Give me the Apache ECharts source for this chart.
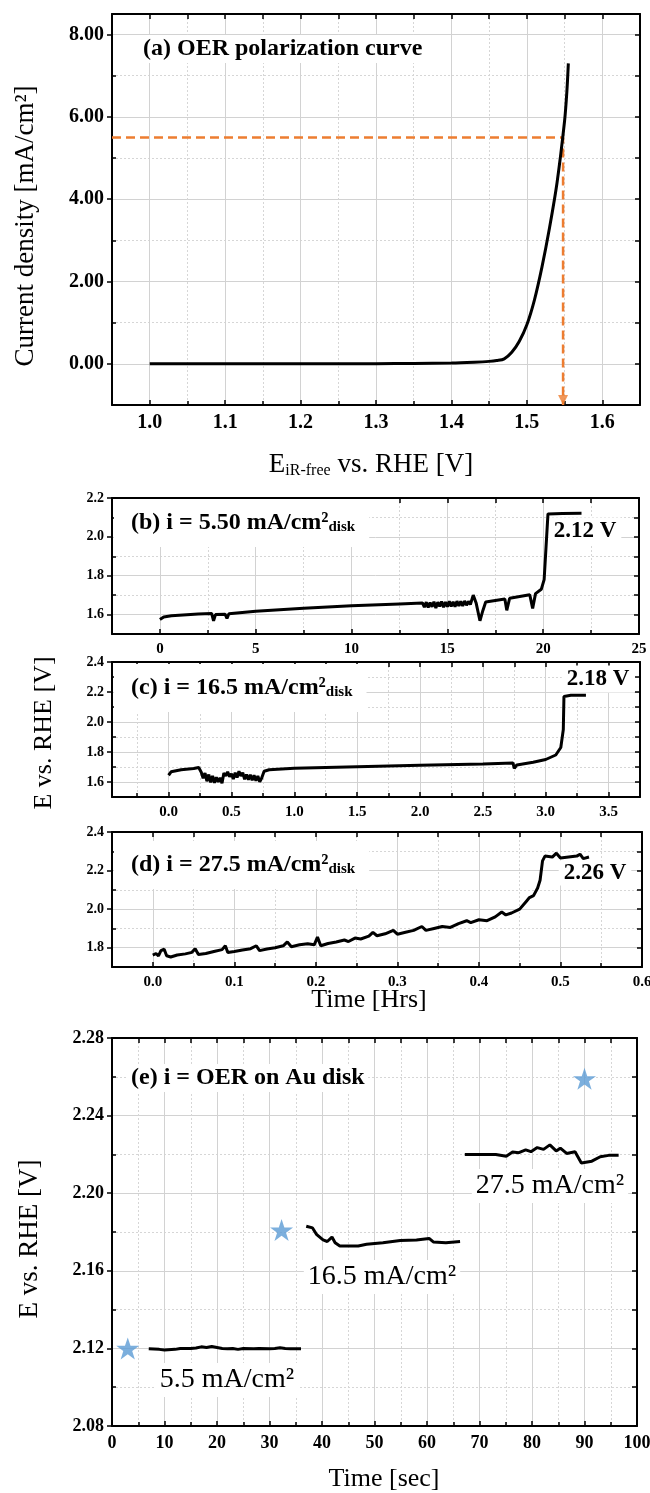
<!DOCTYPE html>
<html>
<head>
<meta charset="utf-8">
<script src="https://cdn.jsdelivr.net/npm/echarts@6/dist/echarts.min.js"></script>
<style>
  html, body { margin: 0; padding: 0; background: #fff; }
  #chart { width: 650px; height: 1493px; }
</style>
</head>
<body>
<div id="chart"></div>
<script>
// ---------- (a) OER polarization curve ----------
const aPotential = [1.00, 1.10, 1.20, 1.30, 1.35, 1.40, 1.43, 1.45, 1.46, 1.47, 1.48, 1.49, 1.50, 1.51, 1.52, 1.53, 1.54, 1.55, 1.553, 1.555];
const aCurrent   = [0.00, 0.00, 0.00, 0.005, 0.01, 0.02, 0.04, 0.06, 0.08, 0.12, 0.28, 0.55, 0.95, 1.55, 2.35, 3.30, 4.40, 5.90, 6.60, 7.30];
const aMarkPotential = 1.548;
const aMarkCurrent = 5.5;
const aXRange = [0.95, 1.65];
const aYRange = [-1, 8.5];
const aXMajor = [1.0, 1.1, 1.2, 1.3, 1.4, 1.5, 1.6];
const aXMinor = [1.05, 1.15, 1.25, 1.35, 1.45, 1.55];
const aYMajor = [0, 2, 4, 6, 8];
const aYMinor = [1, 3, 5, 7];

// ---------- (b) i = 5.50 mA/cm2 ----------
const bTime = [0, 0.2, 0.6, 1.2, 2.0, 2.7, 2.8, 2.9, 3.4, 3.5, 3.6, 5.0, 7.5, 10.0, 12.5, 13.7,
  13.8, 13.9, 14.0, 14.1, 14.2, 14.3, 14.4, 14.5, 14.6, 14.7, 14.8, 14.9, 15.0, 15.1, 15.2, 15.3, 15.4, 15.5, 15.6, 15.7, 15.8, 15.9, 16.0, 16.1, 16.2,
  16.35, 16.5, 16.7, 16.85, 17.0, 18.0, 18.1, 18.25, 19.3, 19.45, 19.6, 19.9, 20.05, 20.15, 20.25, 21.0, 22.0];
const bE = [1.575, 1.588, 1.594, 1.598, 1.603, 1.606, 1.568, 1.600, 1.602, 1.580, 1.604, 1.617, 1.632, 1.645, 1.655, 1.660,
  1.638, 1.664, 1.636, 1.662, 1.640, 1.666, 1.634, 1.664, 1.642, 1.667, 1.638, 1.665, 1.640, 1.668, 1.642, 1.666, 1.640, 1.669, 1.644, 1.668, 1.645, 1.670, 1.648, 1.668, 1.652,
  1.700, 1.660, 1.568, 1.620, 1.665, 1.680, 1.622, 1.684, 1.702, 1.632, 1.708, 1.730, 1.780, 1.950, 2.118, 2.120, 2.121];
const bXRange = [-2.5, 25];
const bYRange = [1.5, 2.2];
const bXMajor = [0, 5, 10, 15, 20, 25];
const bXMinor = [2.5, 7.5, 12.5, 17.5, 22.5];
const bYMajor = [1.6, 1.8, 2.0, 2.2];
const bYMinor = [1.7, 1.9, 2.1];

// ---------- (c) i = 16.5 mA/cm2 ----------
const cTime = [0.00, 0.02, 0.10, 0.20, 0.24,
  0.26, 0.275, 0.29, 0.305, 0.32, 0.335, 0.35, 0.365, 0.38, 0.395, 0.41, 0.425, 0.44, 0.455, 0.47, 0.485, 0.50,
  0.515, 0.53, 0.545, 0.56, 0.575, 0.59, 0.605, 0.62, 0.635, 0.65, 0.665, 0.68, 0.695, 0.71, 0.725, 0.74,
  0.76, 0.80, 1.00, 1.50, 2.00, 2.50, 2.74, 2.75, 2.77, 2.90, 3.00, 3.08, 3.12, 3.14, 3.145, 3.20, 3.32];
const cE = [1.645, 1.668, 1.682, 1.690, 1.697,
  1.665, 1.625, 1.660, 1.605, 1.650, 1.598, 1.640, 1.595, 1.632, 1.600, 1.628, 1.592, 1.660, 1.640, 1.668, 1.635, 1.655,
  1.620, 1.662, 1.630, 1.672, 1.640, 1.662, 1.618, 1.650, 1.615, 1.648, 1.612, 1.645, 1.608, 1.640, 1.602, 1.625,
  1.672, 1.682, 1.692, 1.702, 1.712, 1.720, 1.726, 1.690, 1.714, 1.732, 1.750, 1.780, 1.830, 1.950, 2.170, 2.178, 2.178];
const cXRange = [-0.45, 3.75];
const cYRange = [1.5, 2.4];
const cXMajor = [0, 0.5, 1.0, 1.5, 2.0, 2.5, 3.0, 3.5];
const cXMinor = [-0.25, 0.25, 0.75, 1.25, 1.75, 2.25, 2.75, 3.25];
const cYMajor = [1.6, 1.8, 2.0, 2.2, 2.4];
const cYMinor = [1.7, 1.9, 2.1, 2.3];

// ---------- (d) i = 27.5 mA/cm2 ----------
const dTime = [0, 0.004, 0.007, 0.010, 0.014, 0.017, 0.022, 0.030, 0.040, 0.048, 0.052, 0.056, 0.065, 0.075, 0.085, 0.089, 0.092, 0.100, 0.110, 0.120,
  0.127, 0.131, 0.140, 0.150, 0.160, 0.165, 0.170, 0.180, 0.190, 0.198, 0.202, 0.206, 0.215, 0.225, 0.235, 0.240, 0.248, 0.255, 0.265, 0.270,
  0.275, 0.285, 0.295, 0.300, 0.310, 0.320, 0.330, 0.335, 0.345, 0.355, 0.365, 0.375, 0.385, 0.390, 0.400, 0.410, 0.420, 0.428, 0.433, 0.440,
  0.450, 0.458, 0.462, 0.467, 0.472, 0.475, 0.478, 0.481, 0.490, 0.495, 0.500, 0.510, 0.520, 0.524, 0.528, 0.535];
const dE = [1.762, 1.770, 1.758, 1.785, 1.792, 1.758, 1.752, 1.762, 1.768, 1.776, 1.795, 1.765, 1.770, 1.780, 1.790, 1.810, 1.775, 1.780, 1.788, 1.795,
  1.810, 1.785, 1.793, 1.800, 1.810, 1.830, 1.805, 1.815, 1.820, 1.815, 1.855, 1.810, 1.822, 1.830, 1.840, 1.832, 1.850, 1.845, 1.860, 1.880,
  1.862, 1.872, 1.890, 1.870, 1.880, 1.890, 1.910, 1.890, 1.900, 1.910, 1.905, 1.925, 1.940, 1.930, 1.945, 1.940, 1.960, 1.985, 1.970, 1.980,
  2.000, 2.040, 2.060, 2.070, 2.110, 2.150, 2.250, 2.275, 2.270, 2.290, 2.265, 2.270, 2.275, 2.285, 2.262, 2.270];
const dXRange = [-0.05, 0.6];
const dYRange = [1.7, 2.4];
const dXMajor = [0, 0.1, 0.2, 0.3, 0.4, 0.5, 0.6];
const dXMinor = [0.05, 0.15, 0.25, 0.35, 0.45, 0.55];
const dYMajor = [1.8, 2.0, 2.2, 2.4];
const dYMinor = [1.9, 2.1, 2.3];

// ---------- (e) OER on Au disk ----------
const eTime1 = [7, 9, 10, 12, 13, 15, 16, 17, 18, 19, 20, 21, 22, 23, 24, 25, 27, 28, 30, 31, 32, 33, 34, 36];
const eE1 = [2.1198, 2.1195, 2.1192, 2.1195, 2.1200, 2.1200, 2.1202, 2.1208, 2.1205, 2.1210, 2.1205, 2.1200, 2.1198, 2.1200,
  2.1195, 2.1200, 2.1198, 2.1200, 2.1198, 2.1200, 2.1203, 2.1200, 2.1198, 2.1198];
const eTime2 = [37.0, 38.2, 39.0, 40.2, 41.0, 41.9, 42.5, 43.4, 46.9, 48.5, 51.6, 54.9, 58.0, 60.4, 61.2, 63.6, 66.3];
const eE2 = [2.1830, 2.1821, 2.1786, 2.1759, 2.1751, 2.1774, 2.1745, 2.1728, 2.1728, 2.1737, 2.1745, 2.1756, 2.1759, 2.1767, 2.1749, 2.1745, 2.1751];
const eTime3 = [67.2, 73.1, 75.1, 76.3, 77.5, 78.8, 79.8, 81.0, 82.2, 83.4, 84.6, 85.4, 86.6, 88.2, 89.4, 91.4, 93.0, 94.6, 96.5];
const eE3 = [2.2200, 2.2200, 2.2191, 2.2212, 2.2209, 2.2223, 2.2214, 2.2235, 2.2226, 2.2249, 2.2218, 2.2232, 2.2205, 2.2214,
  2.2156, 2.2165, 2.2188, 2.2195, 2.2195];
const eStarTime = [3, 32.3, 90];
const eStarE = [2.120, 2.181, 2.259];
const eXRange = [0, 100];
const eYRange = [2.08, 2.28];
const eXMajor = [0, 10, 20, 30, 40, 50, 60, 70, 80, 90, 100];
const eXMinor = [5, 15, 25, 35, 45, 55, 65, 75, 85, 95];
const eYMajor = [2.08, 2.12, 2.16, 2.20, 2.24, 2.28];
const eYMinor = [2.10, 2.14, 2.18, 2.22, 2.26];

const FONT = '"Liberation Serif", "Times New Roman", serif';
const BLACK = '#000';
const ORANGE = '#ED7D31';
const STAR_BLUE = '#5B9BD5';
const STAR = 'path://M50,0 L61.8,35.1 L98.8,35.1 L68.9,56.8 L80.2,91.9 L50,70.2 L19.8,91.9 L31.1,56.8 L1.2,35.1 L38.2,35.1 Z';

const zip = (xs, ys) => xs.map((x, i) => [x, ys[i]]);

// three axes per direction: labelled main axis, minor ticks / dotted grid, and the mirrored border
function axisSet(dim, gridIndex, range, major, minor, fmt, fontSize) {
  const pos = dim === 'x' ? ['bottom', 'top'] : ['left', 'right'];
  const base = { type: 'value', gridIndex: gridIndex, min: range[0], max: range[1] };
  const tickStyle = { color: BLACK, width: 1.5 };
  return [
    Object.assign({}, base, {
      position: pos[0],
      axisLine: { onZero: false, lineStyle: { color: BLACK, width: 2 } },
      axisTick: { customValues: major, inside: dim === 'x', length: 5, lineStyle: tickStyle },
      axisLabel: { customValues: major, formatter: fmt, fontFamily: FONT, fontWeight: 'bold',
        fontSize: fontSize, color: BLACK, margin: 8 },
      splitLine: { show: true, lineStyle: { color: '#d2d2d2', width: 1 } }
    }),
    Object.assign({}, base, {
      position: pos[0],
      axisLine: { show: false, onZero: false },
      axisTick: { customValues: minor, inside: true, length: 4, lineStyle: tickStyle },
      axisLabel: { show: false },
      splitLine: { show: true, lineStyle: { color: '#d6d6d6', width: 1, type: [2, 2] } }
    }),
    Object.assign({}, base, {
      position: pos[1],
      axisLine: { onZero: false, lineStyle: { color: BLACK, width: 2 } },
      axisTick: { customValues: major.concat(minor), inside: true, length: 5, lineStyle: tickStyle },
      axisLabel: { show: false },
      splitLine: { show: false }
    })
  ];
}

const f0 = v => String(v);
const f1 = v => v.toFixed(1);
const f2 = v => v.toFixed(2);

const xAxes = [].concat(
  axisSet('x', 0, aXRange, aXMajor, aXMinor, f1, 20),
  axisSet('x', 1, bXRange, bXMajor, bXMinor, f0, 15),
  axisSet('x', 2, cXRange, cXMajor, cXMinor, f1, 15),
  axisSet('x', 3, dXRange, dXMajor, dXMinor, f1, 15),
  axisSet('x', 4, eXRange, eXMajor, eXMinor, f0, 18)
);
const yAxes = [].concat(
  axisSet('y', 0, aYRange, aYMajor, aYMinor, f2, 20),
  axisSet('y', 1, bYRange, bYMajor, bYMinor, f1, 14),
  axisSet('y', 2, cYRange, cYMajor, cYMinor, f1, 14),
  axisSet('y', 3, dYRange, dYMajor, dYMinor, f1, 14),
  axisSet('y', 4, eYRange, eYMajor, eYMinor, f2, 18)
);

function trace(panel, data, width) {
  return {
    type: 'line', xAxisIndex: panel * 3, yAxisIndex: panel * 3, data: data,
    symbol: 'none', lineStyle: { color: BLACK, width: width }, z: 3
  };
}

const series = [
  {
    type: 'line', xAxisIndex: 0, yAxisIndex: 0, symbol: 'none', z: 2,
    data: [[aXRange[0], aMarkCurrent], [aMarkPotential, aMarkCurrent], [aMarkPotential, aYRange[0]]],
    lineStyle: { color: ORANGE, width: 2.5, type: [9, 5] }
  },
  {
    type: 'scatter', xAxisIndex: 0, yAxisIndex: 0, z: 2,
    data: [[aMarkPotential, aYRange[0]]],
    symbol: 'triangle', symbolSize: [10, 10], symbolRotate: 180, symbolOffset: [0, -5],
    itemStyle: { color: ORANGE }
  },
  Object.assign(trace(0, zip(aPotential, aCurrent), 3), { smooth: 0.3 }),
  trace(1, zip(bTime, bE), 3),
  trace(2, zip(cTime, cE), 3),
  trace(3, zip(dTime, dE), 3),
  trace(4, zip(eTime1, eE1), 3),
  trace(4, zip(eTime2, eE2), 3),
  trace(4, zip(eTime3, eE3), 3),
  {
    type: 'scatter', xAxisIndex: 12, yAxisIndex: 12, z: 4,
    data: zip(eStarTime, eStarE), symbol: STAR, symbolSize: [23, 22],
    itemStyle: { color: STAR_BLUE }
  }
];

function txt(x, y, text, size, opt) {
  opt = opt || {};
  const style = {
    text: text, fill: BLACK, fontFamily: FONT, fontSize: size,
    fontWeight: opt.bold ? 'bold' : 'normal',
    align: opt.align || 'center', verticalAlign: 'middle',
    textAlign: opt.align || 'center', textVerticalAlign: 'middle'
  };
  if (opt.bg) { style.backgroundColor = opt.bg; style.padding = opt.pad || [2, 4]; }
  if (opt.rich) style.rich = opt.rich;
  return { type: 'text', x: x, y: y, z: 1, rotation: opt.rotate ? Math.PI / 2 : 0, style: style };
}

const subBold = { s: { fontFamily: FONT, fontWeight: 'bold', fontSize: 15, verticalAlign: 'bottom', lineHeight: 15 } };
const subReg = { s: { fontFamily: FONT, fontSize: 16, verticalAlign: 'bottom', lineHeight: 16 } };
const panelPad = [12, 14, 12, 17];

const graphics = [
  txt(140, 49, '(a) OER polarization curve', 24, { bold: true, align: 'left', bg: '#fff', pad: [2, 3] }),
  txt(26, 226, 'Current density [mA/cm²]', 27, { rotate: true }),
  txt(371, 465, 'E{s|iR-free} vs. RHE [V]', 27, { rich: subReg }),

  txt(114, 523, '(b) i = 5.50 mA/cm²{s|disk}', 24, { bold: true, align: 'left', bg: '#fff', pad: panelPad, rich: subBold }),
  txt(585, 531, '2.12 V', 23, { bold: true, bg: '#fff', pad: [2, 5] }),
  txt(114, 688, '(c) i = 16.5 mA/cm²{s|disk}', 24, { bold: true, align: 'left', bg: '#fff', pad: panelPad, rich: subBold }),
  txt(598, 679, '2.18 V', 23, { bold: true, bg: '#fff', pad: [2, 5] }),
  txt(114, 865, '(d) i = 27.5 mA/cm²{s|disk}', 24, { bold: true, align: 'left', bg: '#fff', pad: panelPad, rich: subBold }),
  txt(595, 873, '2.26 V', 23, { bold: true, bg: '#fff', pad: [1, 5] }),
  txt(44, 733, 'E vs. RHE [V]', 26, { rotate: true }),
  txt(369, 1000, 'Time [Hrs]', 26),

  txt(128, 1078, '(e) i = OER on Au disk', 24, { bold: true, align: 'left', bg: '#fff', pad: [2, 3] }),
  txt(227, 1380, '5.5 mA/cm²', 28, { bg: '#fff', pad: [3, 4] }),
  txt(382, 1277, '16.5 mA/cm²', 28, { bg: '#fff', pad: [3, 4] }),
  txt(550, 1186, '27.5 mA/cm²', 28, { bg: '#fff', pad: [3, 4] }),
  txt(30, 1239, 'E vs. RHE [V]', 27, { rotate: true }),
  txt(384, 1479, 'Time [sec]', 26)
];

const chart = echarts.init(document.getElementById('chart'), null, { renderer: 'canvas' });
chart.setOption({
  animation: false,
  backgroundColor: '#fff',
  grid: [
    { left: 112, top: 14, width: 528, height: 391, outerBoundsMode: 'none' },
    { left: 112, top: 498, width: 527, height: 136, outerBoundsMode: 'none' },
    { left: 112, top: 662, width: 528, height: 135, outerBoundsMode: 'none' },
    { left: 112, top: 832, width: 530, height: 135, outerBoundsMode: 'none' },
    { left: 112, top: 1038, width: 525, height: 388, outerBoundsMode: 'none' }
  ],
  xAxis: xAxes,
  yAxis: yAxes,
  series: series,
  graphic: graphics
});
</script>
</body>
</html>
